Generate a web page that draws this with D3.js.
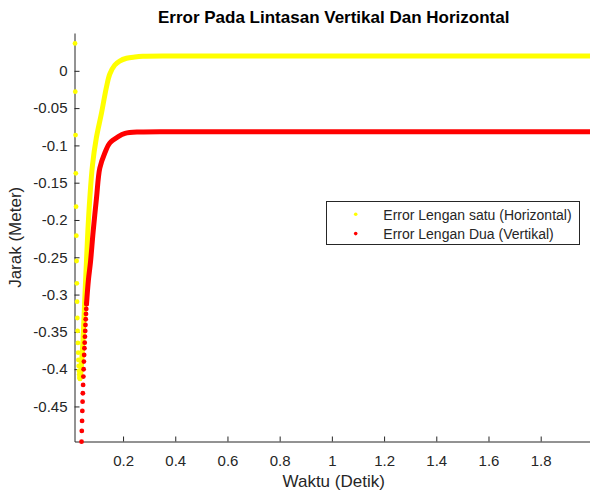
<!DOCTYPE html>
<html>
<head>
<meta charset="utf-8">
<script src="https://cdn.jsdelivr.net/npm/d3@7"></script>
<style>
body { margin: 0; background: #fff; }
text { font-family: "Liberation Sans", Arial, Helvetica, sans-serif; }
</style>
</head>
<body>
<div id="chart"></div>
<script>
var width = 590,
height = 494;

var titleText = "Error Pada Lintasan Vertikal Dan Horizontal";
var xLabel = "Waktu (Detik)",
yLabel = "Jarak (Meter)";
var seriesNames = ["Error Lengan satu (Horizontal)", "Error Lengan Dua (Vertikal)"];

var xTicks = [0.2, 0.4, 0.6, 0.8, 1, 1.2, 1.4, 1.6, 1.8];
var yTicks = [0, -0.05, -0.1, -0.15, -0.2, -0.25, -0.3, -0.35, -0.4, -0.45];

// horizontal arm: first samples fall fast and show as separate dots
var horizDotT = [0.016, 0.017, 0.018, 0.019, 0.020, 0.021, 0.022, 0.023, 0.024, 0.025, 0.026,
  0.027, 0.028, 0.029, 0.030, 0.031, 0.032, 0.033, 0.034, 0.035, 0.036, 0.037];
var horizDotE = [0.0367, -0.0280, -0.0861, -0.1374, -0.1822, -0.2210, -0.2550, -0.2849, -0.3095, -0.3314, -0.3488,
  -0.3649, -0.3779, -0.3877, -0.3957, -0.4024, -0.4071, -0.4105, -0.4125, -0.4131, -0.4125, -0.4105];
// then the dense part of the same series
var horizT = [0.037, 0.041, 0.0466, 0.0535, 0.0592, 0.065, 0.0727, 0.083, 0.0976, 0.1175, 0.1367, 0.1493,
  0.1685, 0.187, 0.2133, 0.245, 0.2758, 0.4, 2.0];
var horizE = [-0.4105, -0.392, -0.3609, -0.3046, -0.2603, -0.2161, -0.1705, -0.1263, -0.0901, -0.0566, -0.0213, -0.0043,
  0.0078, 0.0131, 0.0168, 0.0185, 0.0194, 0.0198, 0.0198];

// vertical arm
var vertDotT = [0.041, 0.042, 0.043, 0.044, 0.045, 0.046, 0.047, 0.048, 0.049, 0.050,
  0.051, 0.052, 0.053, 0.054, 0.055, 0.056, 0.057, 0.058, 0.059, 0.060];
var vertDotE = [-0.4972, -0.4828, -0.4694, -0.4560, -0.4436, -0.4323, -0.4212, -0.4100, -0.4001, -0.3899,
  -0.3810, -0.3720, -0.3645, -0.3564, -0.3488, -0.3408, -0.3331, -0.3260, -0.3193, -0.3126];
var vertT = [0.060, 0.0673, 0.0753, 0.0853, 0.0983, 0.111, 0.1301, 0.1493, 0.180, 0.2075, 0.2645, 0.494, 2.0];
var vertE = [-0.3126, -0.2804, -0.2563, -0.2161, -0.1705, -0.1303, -0.1102, -0.0968, -0.0887, -0.0840, -0.0820, -0.0818, -0.0816];

var colors = ["#ffff00", "#ff0000"],
axisColor = "#262626";

var svg = d3.select("#chart").append("svg")
.attr("width", width)
.attr("height", height);

var x = d3.scaleLinear()
.domain([0.014, 2])
.range([74.5, 592.9]);

var y = d3.scaleLinear()
.domain([-0.497, 0.0507])
.range([441.5, 33]);

// axes, ticks point inward like matlab
var xAxis = svg.append("g")
.attr("transform", "translate(0,441.5)")
.call(d3.axisBottom(x).tickValues(xTicks).tickSize(-5).tickSizeOuter(0).tickPadding(14)
  .tickFormat(function(d) { return String(d); }));

var yAxis = svg.append("g")
.attr("transform", "translate(74.5,0)")
.call(d3.axisLeft(y).tickValues(yTicks).tickSize(-5).tickSizeOuter(0).tickPadding(7)
  .tickFormat(function(d) { return String(d); }));

[xAxis, yAxis].forEach(function(g) {
  g.attr("color", axisColor)
  .attr("font-size", 15)
  .attr("font-family", "'Liberation Sans', Arial, sans-serif");
});

// series
var line = d3.line()
.x(function(d) { return x(d[0]); })
.y(function(d) { return y(d[1]); })
.curve(d3.curveCatmullRom.alpha(0.5));

var series = [
  {dots: d3.zip(horizDotT, horizDotE), curve: d3.zip(horizT, horizE)},
  {dots: d3.zip(vertDotT, vertDotE), curve: d3.zip(vertT, vertE)}
];

series.forEach(function(s, i) {
  svg.append("path")
  .datum(s.curve)
  .attr("d", line)
  .style("fill", "none")
  .style("stroke", colors[i])
  .style("stroke-width", 5)
  .style("stroke-linecap", "round")
  .style("stroke-linejoin", "round");

  svg.selectAll(".dot" + i)
  .data(s.dots)
  .enter()
  .append("circle")
  .attr("class", "dot" + i)
  .attr("cx", function(d) { return x(d[0]); })
  .attr("cy", function(d) { return y(d[1]); })
  .attr("r", 2.4)
  .style("fill", colors[i]);
});

// title and labels
svg.append("text")
.attr("x", 333.7)
.attr("y", 23.3)
.attr("text-anchor", "middle")
.style("font-size", "17px")
.style("font-weight", "bold")
.style("fill", "#000")
.text(titleText);

svg.append("text")
.attr("x", 333.7)
.attr("y", 487.3)
.attr("text-anchor", "middle")
.style("font-size", "17px")
.style("fill", axisColor)
.text(xLabel);

svg.append("text")
.attr("transform", "translate(21,237.3) rotate(-90)")
.attr("text-anchor", "middle")
.style("font-size", "17px")
.style("fill", axisColor)
.text(yLabel);

// legend
var legend = svg.append("g");
legend.append("rect")
.attr("x", 326.5)
.attr("y", 201.5)
.attr("width", 253)
.attr("height", 43)
.style("fill", "#fff")
.style("stroke", axisColor)
.style("stroke-width", 1);

seriesNames.forEach(function(name, i) {
  legend.append("circle")
  .attr("cx", 355.7)
  .attr("cy", 214.3 + i * 19.3)
  .attr("r", 1.8)
  .style("fill", colors[i]);
  legend.append("text")
  .attr("x", 383.3)
  .attr("y", 219.5 + i * 19.3)
  .style("font-size", "14px")
  .style("fill", axisColor)
  .text(name);
});
</script>
</body>
</html>
